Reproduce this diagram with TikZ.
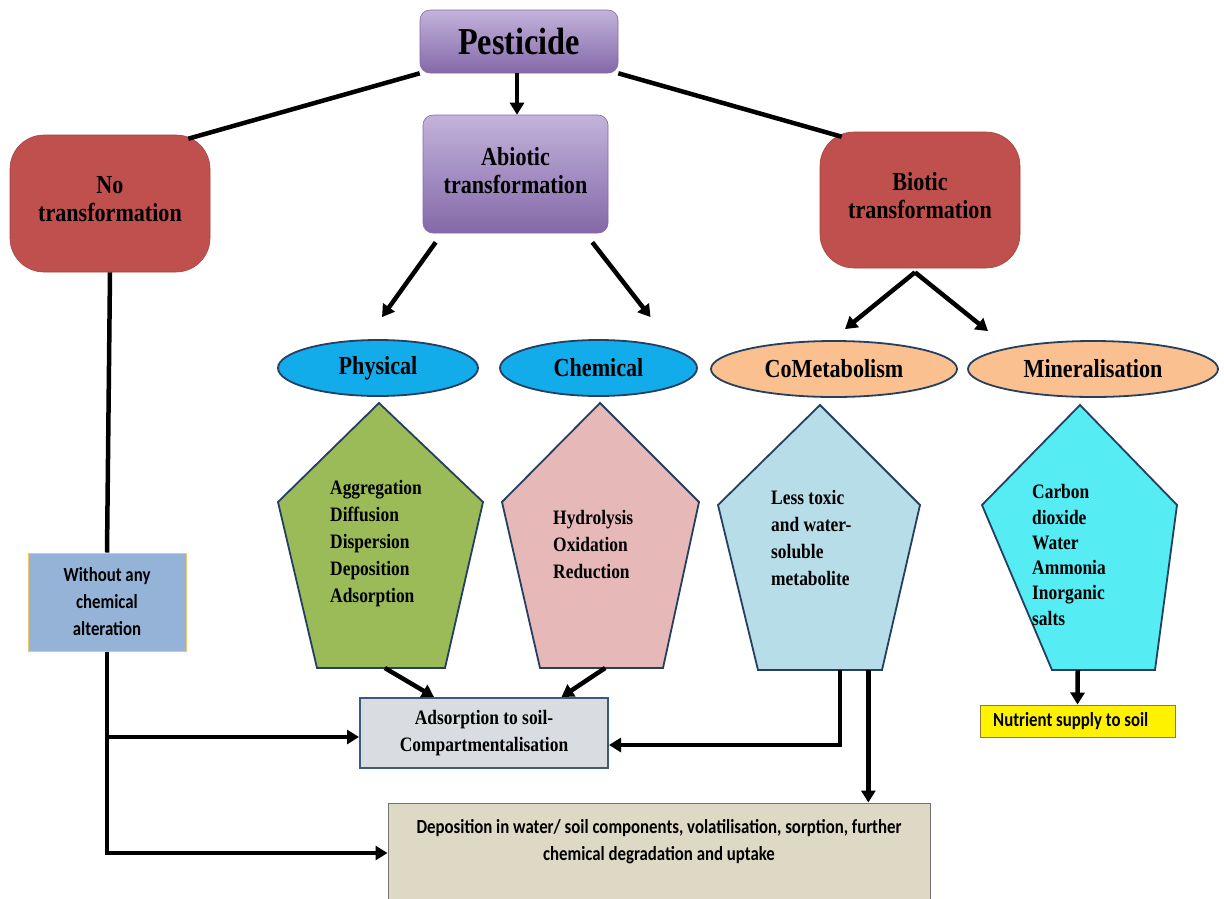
\documentclass[tikz,border=0pt]{standalone}
\usepackage{fontspec}
\setmainfont{Liberation Serif}
\newfontfamily\hdfont{Liberation Serif}[FakeStretch=0.85]
\newfontfamily\cbfont{Carlito}[FakeStretch=0.84]
\usetikzlibrary{arrows.meta,shapes.geometric,calc}
\definecolor{purpTop}{HTML}{C3B3DB}
\definecolor{purpBot}{HTML}{8468A8}
\definecolor{redC}{HTML}{C0504D}
\definecolor{navyC}{HTML}{243F60}
\definecolor{greenC}{HTML}{9BBB59}
\definecolor{pinkC}{HTML}{E6B9B8}
\definecolor{lblueC}{HTML}{B7DDE8}
\definecolor{cyanC}{HTML}{55ECF4}
\definecolor{blueC}{HTML}{12ACEB}
\definecolor{orangeC}{HTML}{FAC090}
\definecolor{woC}{HTML}{95B3D7}
\definecolor{woBorder}{HTML}{F2C46E}
\definecolor{adsC}{HTML}{D9DCE0}
\definecolor{adsBorder}{HTML}{3B5A80}
\definecolor{depC}{HTML}{DDD9C4}
\definecolor{nutBorder}{HTML}{8F7A3A}
\begin{document}
\begin{tikzpicture}[x=1pt,y=-1pt,
  hd/.style={font=\hdfont\bfseries\fontsize{26}{28}\selectfont, text=black, align=center},
  pt/.style={font=\hdfont\bfseries\fontsize{20.5}{27}\selectfont, text=black, align=left, anchor=west, inner sep=0pt},
  cb/.style={font=\cbfont\bfseries\fontsize{20}{27}\selectfont, text=black},
  purplebox/.style={rounded corners=10pt, top color=purpTop, bottom color=purpBot, draw=purpBot, line width=0.6pt, inner sep=0pt},
  redbox/.style={rounded corners=34pt, fill=redC, draw=redC!85!black, line width=0.6pt, inner sep=0pt},
  ell/.style={ellipse, draw=navyC, line width=1.8pt, inner sep=0pt, minimum height=56pt},
  pent/.style={draw=navyC, line width=1.8pt, line join=miter},
  conn/.style={line width=4.5pt, black},
  arr/.style={conn, -{Triangle[length=12pt,width=14pt]}}
]
\useasboundingbox (0,0) rectangle (1224,898);
\fill[white] (0,0) rectangle (1224,898);

% top level
\node[purplebox, minimum width=198pt, minimum height=63pt, font=\hdfont\bfseries\fontsize{38}{40}\selectfont] (pest) at (519,41.5) {Pesticide};
\node[purplebox, minimum width=185pt, minimum height=118pt] (abio) at (515.5,174) {};
\node[hd] (abiotxt) at (515.5,171) {Abiotic\\transformation};
\node[redbox, minimum width=200pt, minimum height=137pt] (no) at (110,203.5) {};
\node[hd] (notxt) at (110,199.5) {No\\transformation};
\node[redbox, minimum width=200pt, minimum height=136pt] (bio) at (920,200) {};
\node[hd] (biotxt) at (920,196) {Biotic\\transformation};

% ellipses
\node[ell, fill=blueC, minimum width=200pt, hd] (phys) at (378,368) {Physical};
\node[ell, fill=blueC, minimum width=197pt, hd] (chem) at (598.5,368) {Chemical};
\node[ell, fill=orangeC, minimum width=246pt, hd] (comet) at (834,369) {CoMetabolism};
\node[ell, fill=orangeC, minimum width=250pt, hd] (mineral) at (1093,369) {Mineralisation};

% pentagons
\draw[pent, fill=greenC] (379,403) coordinate (phT) -- (483,502) coordinate (phR) -- (445,668) coordinate (phBR) -- (317,668) coordinate (phBL) -- (278,502) coordinate (phL) -- cycle;
\draw[pent, fill=pinkC] (600,403) coordinate (chT) -- (699,502) coordinate (chR) -- (663,668) coordinate (chBR) -- (540,668) coordinate (chBL) -- (502,502) coordinate (chL) -- cycle;
\draw[pent, fill=lblueC] (820,405) coordinate (cmT) -- (920,505) coordinate (cmR) -- (882,670) coordinate (cmBR) -- (758,670) coordinate (cmBL) -- (718,505) coordinate (cmL) -- cycle;
\draw[pent, fill=cyanC] (1080,405) coordinate (mnT) -- (1177,505) coordinate (mnR) -- (1155,670) coordinate (mnBR) -- (1052,670) coordinate (mnBL) -- (982,505) coordinate (mnL) -- cycle;

\node[pt] (phtxt) at (330,544) {Aggregation\\Diffusion\\Dispersion\\Deposition\\Adsorption};
\node[pt] (chtxt) at (553,545) {Hydrolysis\\Oxidation\\Reduction};
\node[pt] (cmtxt) at (771,538) {Less toxic\\and water-\\soluble\\metabolite};
\node[pt, font=\hdfont\bfseries\fontsize{20.5}{25.3}\selectfont] (mntxt) at (1032,555) {Carbon\\dioxide\\Water\\Ammonia\\Inorganic\\salts};

% boxes
\node[draw=woBorder, line width=1pt, fill=woC, minimum width=158pt, minimum height=98pt, cb, align=center, inner sep=0pt] (wo) at (107,602) {Without any\\chemical\\alteration};
\node[draw=adsBorder, line width=2pt, fill=adsC, minimum width=248pt, minimum height=70pt, font=\hdfont\bfseries\fontsize{20.5}{27}\selectfont, align=center, inner sep=0pt] (ads) at (484,733) {Adsorption to soil-\\Compartmentalisation};
\node[draw=black!55, line width=1pt, fill=depC, minimum width=542pt, minimum height=100pt, inner sep=0pt] (dep) at (659,853) {};
\node[cb, align=center, inner sep=0pt] (deptxt) at (659,841.5) {Deposition in water/ soil components, volatilisation, sorption, further\\chemical degradation and uptake};
\node[draw=nutBorder, line width=1pt, fill=yellow, minimum width=195pt, minimum height=32pt, inner sep=0pt] (nut) at (1077.5,721) {};
\node[cb, anchor=west, inner sep=0pt] (nuttxt) at (993,721) {Nutrient supply to soil};

% connectors
\draw[conn] (pest.south west) -- ($(no.north east)+(-22,4)$);
\draw[conn] (pest.south east) -- ($(bio.north west)+(22,5)$);
\draw[arr] ([xshift=-2pt]pest.south) -- ([xshift=-2pt]pest.south |- abio.north);
\draw[arr] ($(abio.south west)+(13,9)$) -- ($(phys.north)+(4,-22)$);
\draw[arr] ($(abio.south east)+(-16,9)$) -- ($(chem.north)+(52,-22)$);
\draw[arr] ($(bio.south)+(-5,4)$) -- ($(comet.north)+(11,-11)$);
\draw[arr] ($(bio.south)+(-5,4)$) -- ($(mineral.north)+(-105,-9)$);

\draw[arr] ($(phBL)!0.53!(phBR)$) -- ($(ads.north west)!0.3!(ads.north east)$);
\draw[arr] ($(chBL)!0.53!(chBR)$) -- ($(ads.north west)!0.81!(ads.north east)$);
\draw[arr] ($(cmBL)!0.66!(cmBR)$) |- ([yshift=-12pt]ads.east);
\coordinate (cm2) at ($(cmBL)!0.89!(cmBR)$);
\draw[arr] (cm2) -- (cm2 |- dep.north);
\draw[arr] ($(mnBL)!0.25!(mnBR)$) -- ($(nut.north west)!0.5!(nut.north east)$);

\draw[conn] (no.south) -- (wo.north);
\draw[arr] (wo.south) |- ([yshift=-4pt]ads.west);
\draw[arr] (wo.south) |- (dep.west);
\end{tikzpicture}
\end{document}
